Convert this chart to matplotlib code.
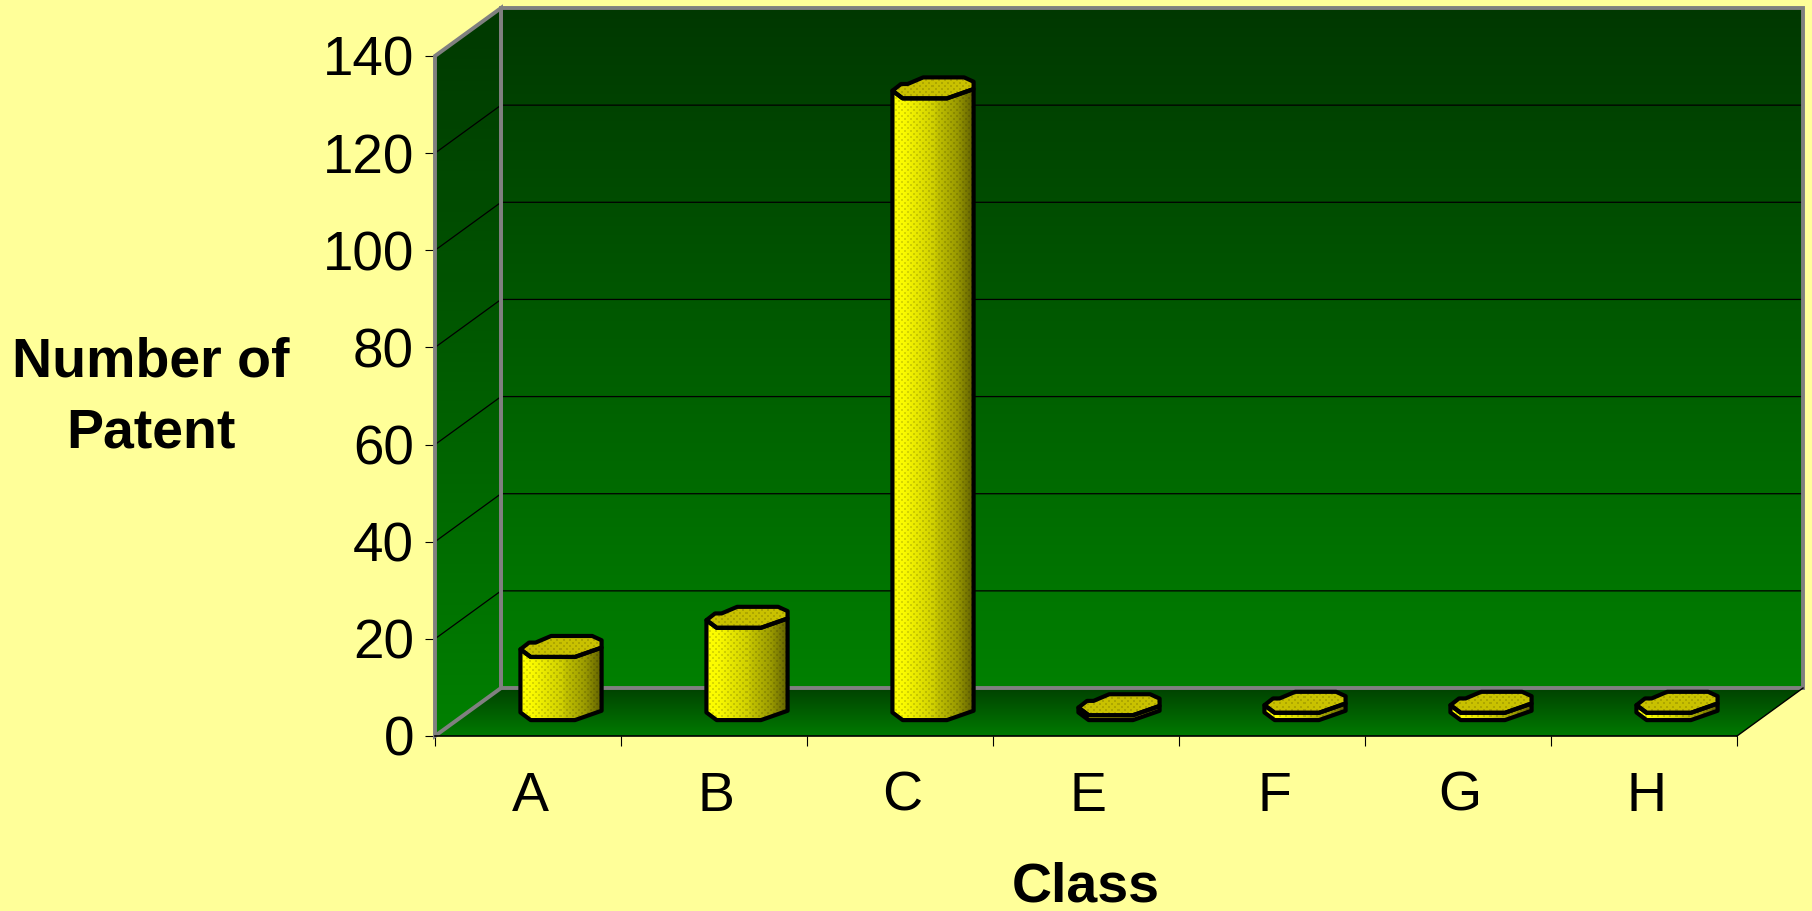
import numpy as np
import matplotlib
matplotlib.use('Agg')
import matplotlib.pyplot as plt
from matplotlib.patches import Polygon

# Data
classes = ['A', 'B', 'C', 'E', 'F', 'G', 'H']
patents = [13, 19, 128, 1, 1.5, 1.5, 1.5]
y_ticks = [0, 20, 40, 60, 80, 100, 120, 140]

# Chart depth expressed in axis units
depth_x = 0.355
depth_y = 9.88

# Colours
page = '#ffff99'
wall_dark = np.array([0, 56, 0]) / 255
wall_light = np.array([0, 128, 0]) / 255
floor_dark = np.array([0, 66, 0]) / 255
floor_light = np.array([0, 122, 0]) / 255
edge_grey = '#808080'

# Outline of a cylinder end cap, normalised, running round from the left corner
cap_x = np.array([-0.99, -0.74, 0.34, 0.99, 0.99, 0.76, -0.24, -0.62, -0.78])
cap_y = np.array([-0.27, -1.0, -1.0, -0.11, 0.59, 1.0, 1.0, 0.37, 0.37])
front_count = 4  # first points of the outline, they face the viewer

plt.rcParams['font.family'] = ['Liberation Sans', 'DejaVu Sans']

fig = plt.figure(figsize=(18.12, 9.11), dpi=100, facecolor=page)
ax = fig.add_axes([435 / 1812, 1 - 736 / 911, 1302 / 1812, 680 / 911])
ax.patch.set_visible(False)


def skew(x, y, d):
    # Push a point of the front plane back by d (0 = front, 1 = back wall)
    return x + d * depth_x, y + d * depth_y


def gradient_patch(colors, verts, extent, zorder):
    # Image clipped to a polygon, used for the shaded surfaces
    im = ax.imshow(colors, extent=extent, origin='lower', aspect='auto',
                   interpolation='nearest', zorder=zorder)
    im.set_clip_box(fig.bbox)
    im.set_clip_path(Polygon(verts, closed=True, transform=ax.transData))
    return im


def vertical_ramp(bottom, top, n=300):
    t = np.linspace(0, 1, n)[:, None, None]
    return bottom[None, None, :] * (1 - t) + top[None, None, :] * t


# Back wall, side wall and floor
back = [skew(0, 0, 1), skew(7, 0, 1), skew(7, 140, 1), skew(0, 140, 1)]
side = [(0, 0), skew(0, 0, 1), skew(0, 140, 1), (0, 140)]
floor = [(0, 0), (7, 0), skew(7, 0, 1), skew(0, 0, 1)]

ramp = vertical_ramp(wall_light, wall_dark)
gradient_patch(ramp, back, (depth_x, 7 + depth_x, depth_y, 140 + depth_y), 1)
gradient_patch(ramp, side, (0, depth_x, 0, 140 + depth_y), 1)
gradient_patch(vertical_ramp(floor_light, floor_dark), floor, (0, 7 + depth_x, 0, depth_y), 1)

# Gridlines run along the side wall and across the back wall
for v in y_ticks[1:-1]:
    x0, y0 = skew(0, v, 1)
    x1, y1 = skew(7, v, 1)
    ax.plot([0, x0, x1], [v, y0, y1], color='black', lw=0.9, zorder=2, clip_on=False)

# Grey frame of the walls
for pts in (back, side):
    ax.add_patch(Polygon(pts, closed=True, fill=False, ec=edge_grey, lw=2.8, zorder=3,
                         joinstyle='miter', clip_on=False))
x1, y1 = skew(7, 0, 1)
ax.plot([7, x1], [0, y1], color='black', lw=1, zorder=3, clip_on=False)
ax.plot([0, 7], [0, 0], color='black', lw=1.2, zorder=3, clip_on=False)


def dotted(rows, cols, shade):
    # Apply the printed dot screen over a colour array
    r, c = np.mgrid[0:rows, 0:cols]
    dots = (r % 6 < 2) & (c % 6 < 2) | ((r + 3) % 6 < 2) & ((c + 3) % 6 < 2)
    out = shade.copy()
    out[dots] *= 0.86
    return out


def cylinder(center, value):
    half_w = 0.2204
    half_h = 2.16
    base = depth_y * 0.55
    px = center + depth_x * 0.5 + half_w * cap_x
    py = base + half_h * cap_y

    body = list(zip(px[:front_count], py[:front_count] + value))
    body += list(zip(px[:front_count][::-1], py[:front_count][::-1]))
    cap = list(zip(px, py + value))

    xa, xb = px.min(), px.max()
    ya, yb = py.min(), py.max() + value
    (pa, qa), (pb, qb) = ax.transData.transform([(xa, ya), (xb, yb)])
    cols = max(int(round(pb - pa)), 2)
    rows = max(int(round(qb - qa)), 2)

    stops = [0, 0.15, 0.5, 0.55, 0.8, 1]
    levels = [1.0, 0.98, 0.82, 0.76, 0.6, 0.38]
    level = np.interp(np.linspace(0, 1, cols), stops, levels)
    shade = np.zeros((rows, cols, 3))
    shade[:, :, 0] = level
    shade[:, :, 1] = level
    gradient_patch(dotted(rows, cols, shade), body, (xa, xb, ya, yb), 5)

    shade_top = np.zeros((rows, cols, 3))
    shade_top[:, :] = (0.79, 0.76, 0.0)
    gradient_patch(dotted(rows, cols, shade_top), cap, (xa, xb, ya, yb), 6)

    ax.add_patch(Polygon(body, closed=True, fill=False, ec='black', lw=3, zorder=7,
                         joinstyle='round', clip_on=False))
    ax.add_patch(Polygon(cap, closed=True, fill=False, ec='black', lw=3, zorder=7,
                         joinstyle='round', clip_on=False))


ax.set_xlim(0, 7)
ax.set_ylim(0, 140)

for i, v in enumerate(patents):
    cylinder(i + 0.5, v)

ax.set_xlim(0, 7)
ax.set_ylim(0, 140)
for s in ax.spines.values():
    s.set_visible(False)

ax.set_yticks(y_ticks)
ax.set_xticks(np.arange(8))
ax.set_xticklabels([])
ax.set_xticks(np.arange(7) + 0.5 + 0.012, labels=classes, minor=True)
ax.tick_params(axis='y', length=7.2, width=0.8, pad=8, labelsize=39.5, color='black')
ax.tick_params(axis='x', which='major', length=7.2, width=0.8, color='black')
ax.tick_params(axis='x', which='minor', length=0, pad=25, labelsize=40)

fig.text(151 / 1812, 1 - 398 / 911, 'Number of\nPatent', ha='center', va='center',
         fontsize=40, fontweight='bold', linespacing=1.48)
fig.text(1086 / 1812, 1 - 887.5 / 911, 'Class', ha='center', va='center',
         fontsize=40, fontweight='bold')

fig.savefig('out.png', dpi=100, facecolor=page)
